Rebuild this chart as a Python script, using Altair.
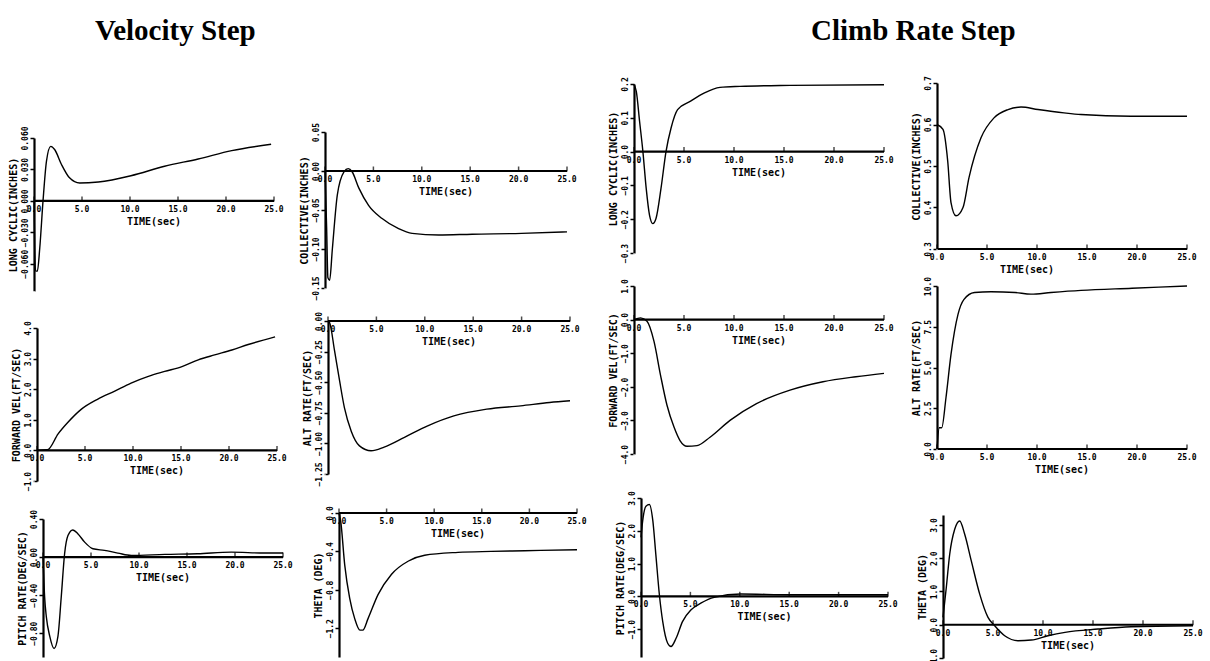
import altair as alt
import pandas as pd

# ---------------- data ----------------
X_TICKS = [0, 5, 10, 15, 20, 25]
X_LABELS = ["0.0", "5.0", "10.0", "15.0", "20.0", "25.0"]

# Velocity step
V_LCYC_T = [0, 0.07, 0.17, 0.35, 0.6, 0.94, 1.3, 1.74, 2.15, 2.85, 3.7, 4.76, 6.7, 10.1, 13.6, 17.1, 20.6, 24.7]
V_LCYC_V = [0, -0.045, -0.067, -0.067, -0.045, 0, 0.038, 0.052, 0.049, 0.035, 0.022, 0.017, 0.018, 0.024, 0.033, 0.040, 0.048, 0.054]

V_COLL_T = [0, 0.17, 0.3, 0.48, 0.76, 1.27, 1.96, 2.4, 2.8, 3.5, 4.5, 5.9, 7.6, 9.0, 11.75, 15.2, 20.3, 25]
V_COLL_V = [0, -0.073, -0.137, -0.14, -0.1, -0.031, -0.001, 0.003, -0.001, -0.022, -0.044, -0.061, -0.074, -0.08, -0.082, -0.081, -0.08, -0.078]

V_FVEL_T = [0, 1.1, 2.2, 3.2, 4.6, 6.3, 8.1, 9.8, 11.6, 13.3, 15.1, 16.8, 18.5, 20.3, 22.0, 24.8]
V_FVEL_V = [0, 0.02, 0.54, 0.91, 1.34, 1.67, 1.94, 2.2, 2.42, 2.58, 2.74, 2.96, 3.12, 3.28, 3.46, 3.71]

V_ALT_T = [0, 0.17, 0.68, 1.2, 1.7, 2.4, 3.25, 4.45, 5.8, 7.9, 10.3, 13.0, 16.4, 19.9, 22.9, 25]
V_ALT_V = [0, -0.014, -0.245, -0.49, -0.71, -0.90, -1.02, -1.06, -1.03, -0.95, -0.856, -0.775, -0.72, -0.693, -0.666, -0.652]

V_PRATE_T = [0, 0.17, 0.35, 0.7, 1.15, 1.56, 1.9, 2.25, 2.6, 3.1, 3.65, 4.34, 5.2, 6.4, 7.8, 9.2, 12.7, 16.1, 19.6, 23.1, 25]
V_PRATE_V = [0, -0.42, -0.63, -0.83, -0.96, -0.83, -0.42, 0.035, 0.226, 0.285, 0.243, 0.157, 0.087, 0.07, 0.042, 0.017, 0.028, 0.035, 0.052, 0.042, 0.042]

V_THETA_T = [0, 0.18, 0.6, 1.12, 1.65, 2.2, 2.5, 3.05, 4.1, 5.5, 7.3, 9.0, 12.5, 16.0, 19.5, 25]
V_THETA_V = [0, -0.087, -0.54, -0.887, -1.1, -1.22, -1.22, -1.1, -0.85, -0.64, -0.5, -0.44, -0.41, -0.40, -0.393, -0.383]

# Climb rate step
C_LCYC_T = [0, 0.23, 0.56, 0.89, 1.22, 1.55, 1.88, 2.2, 2.7, 3.2, 3.7, 4.36, 5.7, 7.0, 8.6, 10.6, 15.6, 25]
C_LCYC_V = [0.198, 0.178, 0.089, 0, -0.109, -0.188, -0.213, -0.198, -0.109, 0, 0.069, 0.124, 0.15, 0.173, 0.19, 0.193, 0.196, 0.198]

C_COLL_T = [0, 0.6, 1.07, 1.4, 1.9, 2.6, 3.2, 4.4, 5.7, 7.1, 8.4, 10.1, 12.7, 14.4, 19.4, 25]
C_COLL_V = [0.6, 0.588, 0.512, 0.412, 0.38, 0.4, 0.472, 0.568, 0.616, 0.636, 0.642, 0.636, 0.628, 0.624, 0.62, 0.62]

C_FVEL_T = [0, 0.66, 1.3, 2.0, 2.65, 3.3, 4.0, 4.6, 5.3, 6.3, 7.6, 9.6, 12.25, 15.6, 18.9, 22.2, 25]
C_FVEL_V = [0, 0.05, -0.05, -0.65, -1.65, -2.55, -3.2, -3.6, -3.77, -3.75, -3.5, -3.0, -2.5, -2.1, -1.85, -1.7, -1.6]

C_ALT_T = [0, 0.23, 0.47, 0.9, 1.4, 2.1, 2.7, 3.75, 5.4, 7.8, 9.4, 11.4, 14.4, 19.5, 25]
C_ALT_V = [0, 1.3, 1.3, 3.16, 5.8, 8.26, 9.18, 9.6, 9.65, 9.6, 9.5, 9.6, 9.73, 9.86, 10.0]

C_PRATE_T = [0, 0.17, 0.5, 0.85, 1.2, 1.5, 1.86, 2.2, 2.7, 3.04, 3.55, 4.2, 5.07, 6.1, 7.4, 10.1, 15.2, 25]
C_PRATE_V = [1.8, 2.3, 2.75, 2.8, 2.3, 1.28, 0.05, -0.77, -1.43, -1.53, -1.28, -0.77, -0.41, -0.2, -0.03, 0.07, 0.05, 0.05]

C_THETA_T = [0, 0.33, 0.67, 1.17, 1.67, 2.17, 2.83, 3.67, 4.5, 5.17, 6.17, 7.5, 8.83, 10.5, 12.2, 15.5, 18.8, 25]
C_THETA_V = [0.22, 1.12, 2.12, 2.87, 3.12, 2.72, 1.92, 0.92, 0.22, -0.03, -0.33, -0.48, -0.46, -0.33, -0.23, -0.13, -0.06, -0.03]

LABEL_FONT = "DejaVu Sans Mono"
TITLE_FONT = "Liberation Serif"


def panel(t, v, ydom, yvals, yfmt, ytitle, w, h, axis_v=0.0, time_t=12.5, shift=0):
    # `shift` moves the whole panel (axis at t=0) to the right inside its cell
    df = pd.DataFrame({"t": t, "v": v})
    x0 = -25.0 * shift / w
    xs = alt.Scale(domain=[x0, 25], nice=False, zero=False)
    ys = alt.Scale(domain=ydom, nice=False, zero=False)
    yaxis = alt.Axis(
        values=yvals, format=yfmt, title=ytitle, grid=False, offset=-shift,
        labelAngle=270, labelFont=LABEL_FONT, labelFontSize=8, labelFontWeight="bold",
        labelColor="black", labelPadding=1, labelOverlap=False,
        titleFont=LABEL_FONT, titleFontSize=10, titleFontWeight="bold", titleColor="black",
        titlePadding=3, domainColor="black", domainWidth=2.2, tickColor="black",
        tickWidth=1.5, tickSize=4,
    )
    X = alt.X("t:Q", scale=xs, axis=None)
    Y = alt.Y("v:Q", scale=ys, axis=yaxis)
    line = alt.Chart(df).mark_line(color="black", strokeWidth=1.4, interpolate="monotone").encode(x=X, y=Y)
    rule_df = pd.DataFrame({"t": [X_TICKS[0]], "t2": [X_TICKS[-1]], "v": [axis_v]})
    xrule = alt.Chart(rule_df).mark_rule(color="black", strokeWidth=2.2).encode(x=X, x2="t2:Q", y=Y)
    tick_df = pd.DataFrame({"t": X_TICKS, "v": [axis_v] * len(X_TICKS), "lab": X_LABELS})
    ticks = alt.Chart(tick_df).mark_tick(color="black", orient="vertical", size=5, thickness=1.5, yOffset=-2).encode(x=X, y=Y)
    labels = alt.Chart(tick_df).mark_text(
        font=LABEL_FONT, fontSize=8, fontWeight="bold", dy=9, color="black", baseline="middle"
    ).encode(x=X, y=Y, text="lab:N")
    time_df = pd.DataFrame({"t": [time_t], "v": [axis_v], "lab": ["TIME(sec)"]})
    tlab = alt.Chart(time_df).mark_text(
        font=LABEL_FONT, fontSize=10, fontWeight="bold", dy=21, color="black", baseline="middle"
    ).encode(x=X, y=Y, text="lab:N")
    return alt.layer(line, xrule, ticks, labels, tlab).properties(width=w + shift, height=h)


def spacer(h, w):
    sdf = pd.DataFrame({"a0": [0], "a1": [1]})
    sc = alt.Scale(domain=[0, 1], nice=False)
    return alt.Chart(sdf).mark_rule(color="white", strokeWidth=1).encode(
        x=alt.X("a0:Q", axis=None, scale=sc), y=alt.Y("a0:Q", axis=None, scale=sc), y2="a1:Q"
    ).properties(width=w, height=h)


p1 = panel(V_LCYC_T, V_LCYC_V, [-0.086, 0.06], [0.06, 0.03, 0.0, -0.03, -0.06], ".3f", "LONG CYCLIC(INCHES)", 240, 153)
p5 = panel(V_FVEL_T, V_FVEL_V, [-1.0, 4.0], [4, 3, 2, 1, 0, -1], ".1f", "FORWARD VEL(FT/SEC)", 240, 153, shift=3)
p9 = panel(V_PRATE_T, V_PRATE_V, [-1.05, 0.4], [0.4, 0.0, -0.4, -0.8], ".2f", "PITCH RATE(DEG/SEC)", 240, 138, shift=9)

p2 = panel(V_COLL_T, V_COLL_V, [-0.15, 0.05], [0.05, 0.0, -0.05, -0.10, -0.15], ".2f", "COLLECTIVE(INCHES)", 242, 156)
p6 = panel(V_ALT_T, V_ALT_V, [-1.25, 0.0], [0.0, -0.25, -0.5, -0.75, -1.0, -1.25], ".2f", "ALT RATE(FT/SEC)", 242, 153, shift=3)
p10 = panel(V_THETA_T, V_THETA_V, [-1.5, 0.0], [0.0, -0.4, -0.8, -1.2], ".1f", "THETA (DEG)", 238, 144, shift=14)

p3 = panel(C_LCYC_T, C_LCYC_V, [-0.3, 0.2], [0.2, 0.1, 0.0, -0.1, -0.2, -0.3], ".1f", "LONG CYCLIC(INCHES)", 250, 169)
p7 = panel(C_FVEL_T, C_FVEL_V, [-4.0, 1.0], [1, 0, -1, -2, -3, -4], ".1f", "FORWARD VEL(FT/SEC)", 250, 168)
p11 = panel(C_PRATE_T, C_PRATE_V, [-1.85, 3.0], [3, 2, 1, 0, -1], ".1f", "PITCH RATE(DEG/SEC)", 247, 159, shift=7)

p4 = panel(C_COLL_T, C_COLL_V, [0.3, 0.7], [0.7, 0.6, 0.5, 0.4, 0.3], ".1f", "COLLECTIVE(INCHES)", 250, 166, axis_v=0.3, time_t=9)
p8 = panel(C_ALT_T, C_ALT_V, [0.0, 10.0], [10, 7.5, 5, 2.5, 0], ".1f", "ALT RATE(FT/SEC)", 250, 163, axis_v=0.0)
p12 = panel(C_THETA_T, C_THETA_V, [-1.0, 3.3], [3, 2, 1, 0, -1], ".1f", "THETA (DEG)", 250, 143, shift=6)

col1 = alt.vconcat(spacer(65, 240), p1, spacer(37, 240), p5, spacer(38, 240), p9, spacing=0, bounds="flush")
col2 = alt.vconcat(spacer(59, 242), p2, spacer(33, 242), p6, spacer(39, 242), p10, spacing=0, bounds="flush")
col3 = alt.vconcat(spacer(11, 250), p3, spacer(33, 250), p7, spacer(44, 250), p11, spacing=0, bounds="flush")
col4 = alt.vconcat(spacer(10, 250), p4, spacer(37, 250), p8, spacer(66, 250), p12, spacing=0, bounds="flush")


def big_title(text, dx):
    return alt.TitleParams(text=text, font=TITLE_FONT, fontSize=29, fontWeight="bold", color="black",
                           anchor="middle", offset=27, dx=dx)


left = alt.hconcat(col1, col2, spacing=6, title=big_title("Velocity Step", -122))
right = alt.hconcat(col3, col4, spacing=12, title=big_title("Climb Rate Step", 8))

chart = alt.hconcat(left, right, spacing=21).properties(
    padding={"left": 7, "top": 16, "right": 0, "bottom": 0},
    background="white",
).configure_view(stroke=None, strokeWidth=0)

chart.save("out.html", embed_options={"renderer": "svg", "actions": False})
